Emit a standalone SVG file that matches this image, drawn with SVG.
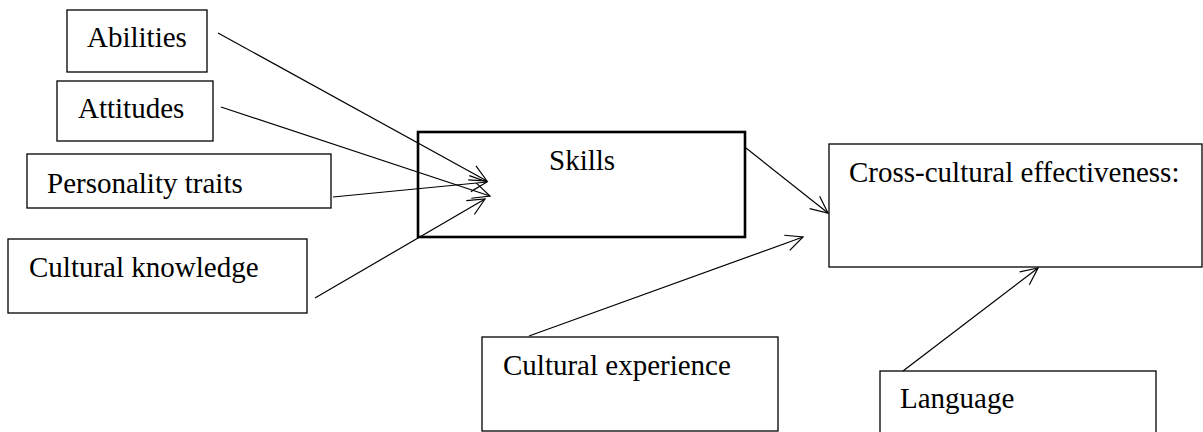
<svg xmlns="http://www.w3.org/2000/svg" width="1203" height="432" viewBox="0 0 1203 432">
<style>
.box{fill:#fff;stroke:#000;stroke-width:1.3}
.thick{fill:#fff;stroke:#000;stroke-width:2.6}
.lbl{font-family:"Liberation Serif","Times New Roman",serif;font-size:29px;fill:#000}
.conn{stroke:#000;stroke-width:1.2;fill:none;marker-end:url(#arr)}
</style>
<defs>
<marker id="arr" markerUnits="userSpaceOnUse" markerWidth="40" markerHeight="40" refX="0" refY="0" viewBox="-20 -20 40 40" orient="auto" overflow="visible">
<path d="M-17,-8 L0,0 L-17,8" fill="none" stroke="#000" stroke-width="1.2"/>
</marker>
</defs>
<rect width="1203" height="432" fill="#fff"/>
<g id="abilities"><rect class="box" x="67" y="10" width="140" height="62"/><text class="lbl" x="87" y="47">Abilities</text></g>
<g id="attitudes"><rect class="box" x="57" y="81" width="156" height="60"/><text class="lbl" x="78" y="118">Attitudes</text></g>
<g id="personality"><rect class="box" x="27" y="154" width="304" height="54"/><text class="lbl" x="47" y="193">Personality traits</text></g>
<g id="knowledge"><rect class="box" x="8" y="239" width="299" height="74"/><text class="lbl" x="29" y="277">Cultural knowledge</text></g>
<g id="skills"><rect class="thick" x="418" y="132" width="327" height="105"/><text class="lbl" x="549" y="170">Skills</text></g>
<g id="effectiveness"><rect class="box" x="829" y="144" width="373" height="123"/><text class="lbl" x="849" y="182">Cross-cultural effectiveness:</text></g>
<g id="experience"><rect class="box" x="482" y="337" width="296" height="94"/><text class="lbl" x="503" y="375">Cultural experience</text></g>
<g id="language"><rect class="box" x="880" y="371" width="276" height="70"/><text class="lbl" x="900" y="408">Language</text></g>
<g id="connectors">
<line class="conn" x1="218" y1="33" x2="487" y2="181"/>
<line class="conn" x1="221" y1="107" x2="490" y2="196"/>
<line class="conn" x1="333" y1="197" x2="487" y2="182"/>
<line class="conn" x1="315" y1="298" x2="485" y2="199"/>
<line class="conn" x1="746" y1="148" x2="828" y2="213"/>
<line class="conn" x1="529" y1="336" x2="803" y2="237"/>
<line class="conn" x1="903" y1="371" x2="1038" y2="268"/>
</g>
</svg>
